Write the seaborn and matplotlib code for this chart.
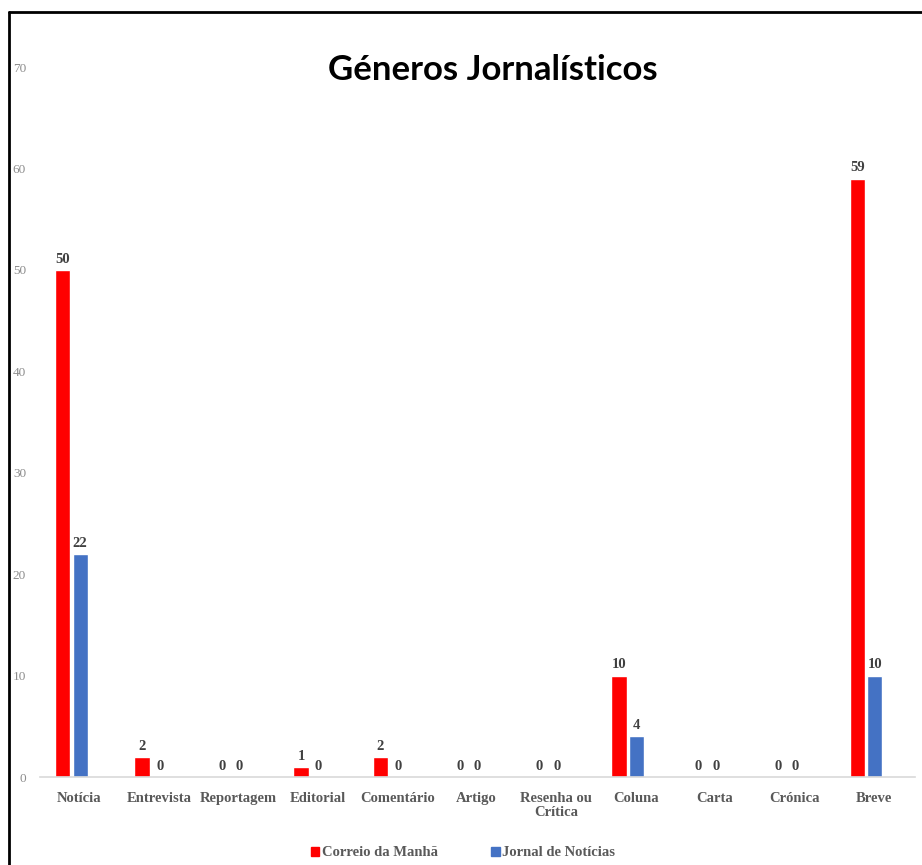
import pandas as pd
import numpy as np
import matplotlib
matplotlib.use("Agg")
import matplotlib.pyplot as plt
import matplotlib.transforms as mtransforms
from matplotlib.lines import Line2D
import seaborn as sns

categories = ['Notícia', 'Entrevista', 'Reportagem', 'Editorial', 'Comentário', 'Artigo',
              'Resenha ou\nCrítica', 'Coluna', 'Carta', 'Crónica', 'Breve']
correio = [50, 2, 0, 1, 2, 0, 0, 10, 0, 0, 59]
jornal = [22, 0, 0, 0, 0, 0, 0, 4, 0, 0, 10]
series_names = ['Correio da Manhã', 'Jornal de Notícias']
series_colors = ['#ff0000', '#4472c4']

df = pd.DataFrame({
    'Genero': categories * 2,
    'Jornal': [series_names[0]] * len(categories) + [series_names[1]] * len(categories),
    'Valor': correio + jornal,
})

sns.set_theme(style='white')
plt.rcParams['font.family'] = ['Liberation Serif', 'DejaVu Serif']

W, H = 922, 865
fig = plt.figure(figsize=(W / 100, H / 100), dpi=100)
ax = fig.add_axes([40 / W, 1 - 777 / H, (915 - 40) / W, (777 - 67) / H])

sns.barplot(data=df, x='Genero', y='Valor', hue='Jornal', order=categories,
            hue_order=series_names, palette=series_colors, width=0.44, gap=0.12,
            saturation=1, legend=False, ax=ax)

for cont in ax.containers:
    ax.bar_label(cont, fmt='%d', padding=3, fontsize=10.5, fontweight='bold', color='#404040')

ax.set_ylim(0, 70)
ax.set_yticks(range(0, 71, 10))
ax.set_xlim(-0.396, 10.617)
ax.set_xlabel('')
ax.set_ylabel('')
for s in ['top', 'right', 'left']:
    ax.spines[s].set_visible(False)
ax.spines['bottom'].set_color('#d9d9d9')
ax.spines['bottom'].set_linewidth(1.2)
ax.tick_params(axis='y', length=0, pad=10, labelsize=9.5, labelcolor='#8c8c8c')
ax.tick_params(axis='x', length=0, pad=18, labelsize=10.5, labelcolor='#595959')
for lab in ax.get_xticklabels():
    lab.set_fontweight('bold')
    lab.set_linespacing(1.1)
    lab.set_verticalalignment('baseline')
    # multi-line labels align on their last line, push them down one line
    dy = -0.14 * lab.get_text().count('\n')
    offset = mtransforms.ScaledTranslation(0.08, dy, fig.dpi_scale_trans)
    lab.set_transform(lab.get_transform() + offset)

fig.text(493 / W, 1 - 70 / H, 'Géneros Jornalísticos', ha='center', va='center',
         fontsize=25, fontweight='bold', family=['Lato', 'DejaVu Sans'], color='black')

handles = [plt.Rectangle((0, 0), 1, 1, color=c) for c in series_colors]
fig.legend(handles, series_names, loc='center', bbox_to_anchor=(463 / W, 1 - 853 / H),
           ncol=2, frameon=False, handlelength=0.6, handleheight=0.6, handletextpad=0.2,
           columnspacing=3.6, prop={'family': 'Liberation Serif', 'weight': 'bold', 'size': 10.5},
           labelcolor='#595959')

# black frame around the pasted chart
fig.add_artist(Line2D([9 / W, 9 / W], [0, 1 - 12 / H], color='black', lw=2,
                      transform=fig.transFigure))
fig.add_artist(Line2D([9 / W, 1], [1 - 12 / H, 1 - 12 / H], color='black', lw=2,
                      transform=fig.transFigure))

fig.savefig('out.png', dpi=100, facecolor='white')
